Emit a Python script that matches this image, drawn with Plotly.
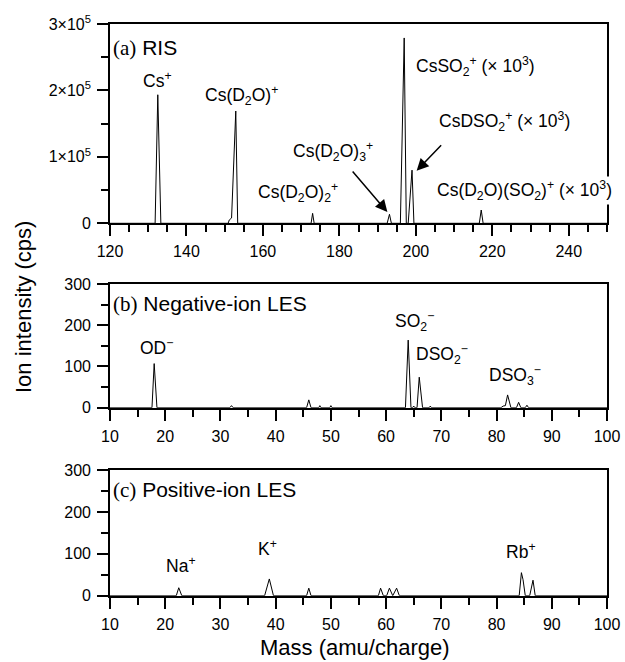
import plotly.graph_objects as go

# ---- (a) RIS spectrum, 120-250 amu ----
ris_mass = [120, 131.8, 132.5, 133.3, 150.9, 151.2, 151.8, 152.9, 153.4,
            172.6, 173.0, 173.4, 192.5, 193.1, 193.6, 195.95, 196.95, 197.5,
            198.0, 199.0, 199.5, 216.6, 217.1, 217.6, 250]
ris_counts = [0, 0, 193500, 0, 0, 5000, 8000, 169000, 0,
              0, 15000, 0, 0, 13600, 0, 0, 279000, 0,
              0, 80000, 0, 0, 20000, 0, 0]

# ---- (b) negative-ion LES spectrum ----
neg_mass = [10, 17.6, 18.0, 18.5, 31.7, 32.0, 32.3, 45.6, 46.0, 46.4,
            47.8, 48.0, 48.2, 49.8, 50.0, 50.2, 63.5, 64.0, 64.5,
            64.8, 65.0, 65.2, 65.6, 66.0, 66.6, 67.8, 68.0, 68.2,
            80.8, 81.2, 81.6, 82.0, 82.6, 83.6, 84.0, 84.4,
            85.2, 85.5, 85.8, 100]
neg_counts = [0, 0, 107, 0, 0, 5, 0, 0, 19, 0,
              0, 5, 0, 0, 5, 0, 0, 164, 0,
              0, 4, 0, 0, 74, 0, 0, 4, 0,
              0, 4, 5, 31, 0, 0, 13, 0,
              0, 6, 0, 0]

# ---- (c) positive-ion LES spectrum ----
pos_mass = [10, 22.0, 22.45, 23.0, 38.0, 38.85, 39.6, 45.6, 46.0, 46.4,
            58.6, 59.0, 59.5, 60.1, 60.6, 61.2, 61.9, 62.4,
            84.1, 84.5, 84.8, 85.2, 86.0, 86.6, 87.0, 100]
pos_counts = [0, 0, 19, 0, 0, 40, 0, 0, 18, 0,
              0, 18, 0, 0, 18, 0, 18, 0,
              0, 55, 38, 0, 0, 37, 0, 0]

ris_yticks = [0, 1e5, 2e5, 3e5]
ris_yticktext = ["0", "1×10<sup>5</sup>", "2×10<sup>5</sup>", "3×10<sup>5</sup>"]

SANS = "Liberation Sans, Arial, sans-serif"
SERIF = "Liberation Serif"
W, H = 625, 662

fig = go.Figure()
line = dict(color="black", width=1)
fig.add_trace(go.Scatter(x=ris_mass, y=ris_counts, mode="lines", line=line,
                         xaxis="x", yaxis="y", showlegend=False))
fig.add_trace(go.Scatter(x=neg_mass, y=neg_counts, mode="lines", line=line,
                         xaxis="x2", yaxis="y2", showlegend=False))
fig.add_trace(go.Scatter(x=pos_mass, y=pos_counts, mode="lines", line=line,
                         xaxis="x3", yaxis="y3", showlegend=False))

x_dom = [110 / W, 607 / W]


def ydom(top_px, bottom_px):
    return [1 - bottom_px / H, 1 - top_px / H]


tickfont = dict(family=SANS, size=16, color="black")
common = dict(showline=True, linecolor="black", linewidth=1.6, mirror=True,
              ticks="outside", ticklen=11, tickwidth=1.6, tickcolor="black",
              showgrid=False, zeroline=False, tickfont=tickfont,
              automargin=False)


def xax(rng, dtick, anchor):
    return dict(common, domain=x_dom, range=rng, dtick=dtick, tick0=rng[0],
                anchor=anchor, ticklabelstandoff=2,
                minor=dict(ticks="outside", ticklen=7, tickwidth=1.6,
                           tickcolor="black", dtick=5, showgrid=False))


def yax(rng, dom, anchor, minor_dtick, **kw):
    return dict(common, domain=dom, range=rng, anchor=anchor,
                ticklabelstandoff=3,
                minor=dict(ticks="outside", ticklen=7, tickwidth=1.6,
                           tickcolor="black", dtick=minor_dtick,
                           showgrid=False), **kw)


fig.update_layout(
    width=W, height=H,
    margin=dict(l=0, r=0, t=0, b=0),
    paper_bgcolor="white", plot_bgcolor="white",
    font=dict(family=SANS, color="black"),
    xaxis=xax([120, 250], 20, "y"),
    yaxis=yax([0, 3e5], ydom(24, 223.3), "x", 5e4,
              tickmode="array", tickvals=ris_yticks, ticktext=ris_yticktext),
    xaxis2=xax([10, 100], 10, "y2"),
    yaxis2=yax([0, 300], ydom(284, 407.7), "x2", 50, dtick=100, tick0=0),
    xaxis3=xax([10, 100], 10, "y3"),
    yaxis3=yax([0, 300], ydom(470, 595.7), "x3", 50, dtick=100, tick0=0),
)

ann = []


def label(text, x, y, xref, yref, size=17.5, xanchor="center", **kw):
    ann.append(dict(text=text, x=x, y=y, xref=xref, yref=yref,
                    showarrow=False, xanchor=xanchor, yanchor="middle",
                    font=dict(family=SANS, size=size, color="black"), **kw))


# panel titles
label(f"<span style='font-family:{SERIF}'>(a)</span> RIS", 120.2, 264000,
      "x", "y", size=21, xanchor="left")
label(f"<span style='font-family:{SERIF}'>(b)</span> Negative-ion LES", 10.1, 251,
      "x2", "y2", size=21, xanchor="left")
label(f"<span style='font-family:{SERIF}'>(c)</span> Positive-ion LES", 10.1, 252,
      "x3", "y3", size=21, xanchor="left")

# (a) peak labels
label("Cs<sup>+</sup>", 132.3, 216000, "x", "y")
label("Cs(D<sub>2</sub>O)<sup>+</sup>", 154.5, 193000, "x", "y")
label("Cs(D<sub>2</sub>O)<sub>2</sub><sup>+</sup>", 169.2, 47000, "x", "y")
label("Cs(D<sub>2</sub>O)<sub>3</sub><sup>+</sup>", 178.3, 108000, "x", "y")
label("CsSO<sub>2</sub><sup>+</sup> (× 10<sup>3</sup>)", 215.7, 236000, "x", "y")
label("CsDSO<sub>2</sub><sup>+</sup> (× 10<sup>3</sup>)", 223.1, 153000, "x", "y")
label("Cs(D<sub>2</sub>O)(SO<sub>2</sub>)<sup>+</sup> (× 10<sup>3</sup>)", 228.3, 50000,
      "x", "y", bgcolor="white")

# arrows pointing at the small peaks
for tip_x, tip_y, ax, ay in [(192.55, 17000, -36, -42), (200.2, 79000, 26, -27)]:
    ann.append(dict(x=tip_x, y=tip_y, xref="x", yref="y", ax=ax, ay=ay,
                    axref="pixel", ayref="pixel", text="", showarrow=True,
                    arrowhead=2, arrowsize=1.6, arrowwidth=1.5,
                    arrowcolor="black", standoff=0))

# (b) peak labels
label("OD<sup>−</sup>", 18.5, 147, "x2", "y2")
label("SO<sub>2</sub><sup>−</sup>", 65.05, 208, "x2", "y2")
label("DSO<sub>2</sub><sup>−</sup>", 70.1, 128, "x2", "y2")
label("DSO<sub>3</sub><sup>−</sup>", 83.3, 79, "x2", "y2")

# (c) peak labels
label("Na<sup>+</sup>", 22.9, 73, "x3", "y3")
label("K<sup>+</sup>", 38.6, 114, "x3", "y3")
label("Rb<sup>+</sup>", 84.4, 107, "x3", "y3")

# axis titles
ann.append(dict(text="Ion intensity (cps)", x=23 / W, y=1 - 307 / H,
                xref="paper", yref="paper", showarrow=False, textangle=-90,
                xanchor="center", yanchor="middle",
                font=dict(family=SANS, size=22, color="black")))
ann.append(dict(text="Mass (amu/charge)", x=355 / W, y=1 - 647 / H,
                xref="paper", yref="paper", showarrow=False,
                xanchor="center", yanchor="middle",
                font=dict(family=SANS, size=22, color="black")))

fig.update_layout(annotations=ann)
fig.write_html("out.html")
